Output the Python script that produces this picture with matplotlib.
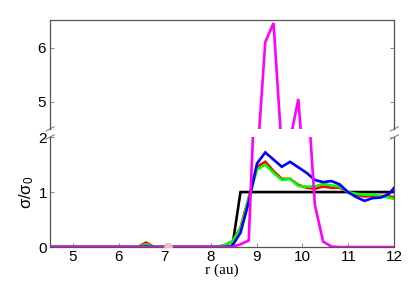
import numpy as np
import matplotlib
matplotlib.use('Agg')
import matplotlib.pyplot as plt

plt.rcParams['font.family'] = ['Liberation Sans', 'DejaVu Sans']

# radial grid (au) -- same for all curves
r = [4.5, 6.41, 6.59, 6.77, 7.93, 8.11, 8.29, 8.47, 8.65, 8.83, 9.01, 9.19,
     9.37, 9.55, 9.73, 9.91, 10.09, 10.27, 10.45, 10.63, 10.81, 10.99,
     11.17, 11.35, 11.53, 11.71, 11.89, 12.07]

sig_init = [0, 0, 0, 0, 0, 0, 0, 0, 1, 1, 1, 1, 1, 1, 1, 1, 1, 1, 1, 1, 1, 1,
            1, 1, 1, 1, 1, 1]
sig_red = [0, 0, 0.08, 0, 0, 0, 0.03, 0.1, 0.35, 0.9, 1.46, 1.55, 1.38, 1.24,
           1.24, 1.13, 1.08, 1.06, 1.10, 1.08, 1.08, 1.0, 0.95, 0.92, 0.93,
           0.93, 0.92, 0.90]
sig_green = [0, 0, 0.05, 0, 0, 0, 0.03, 0.1, 0.33, 0.88, 1.41, 1.50, 1.35,
             1.22, 1.24, 1.11, 1.10, 1.10, 1.15, 1.12, 1.10, 1.0, 0.97, 0.95,
             0.95, 0.92, 0.90, 0.86]
sig_blue = [0, 0, 0.01, 0, 0, 0, 0, 0.02, 0.26, 0.82, 1.52, 1.72, 1.59, 1.46,
            1.55, 1.45, 1.35, 1.22, 1.18, 1.20, 1.14, 1.0, 0.91, 0.84, 0.89,
            0.90, 0.97, 1.15]
sig_mag = [0, 0, 0, 0, 0, 0, 0, 0, 0.05, 0.12, 3.88, 6.1, 6.45, 4.11, 4.29,
           5.05, 3.07, 0.77, 0.1, 0.01, 0, 0, 0, 0, 0, 0, 0, 0]

dot_r, dot_s = 7.07, 0.0

fig = plt.figure(figsize=(4.15, 2.91), dpi=100)
ax_top = fig.add_axes([0.1205, 0.557, 0.8295, 0.373])
ax_bot = fig.add_axes([0.1205, 0.151, 0.8295, 0.378])

series = [(sig_init, 'black'), (sig_red, '#ff0000'), (sig_green, '#00ff00'),
          (sig_blue, '#0000ff'), (sig_mag, '#ff00ff')]
for ax in (ax_top, ax_bot):
    for s, c in series:
        ax.plot(r, s, color=c, lw=1.9, solid_joinstyle='miter')
    ax.set_xlim(4.5, 12)
    for sp in ax.spines.values():
        sp.set_color('#555555')
        sp.set_linewidth(0.9)
    ax.tick_params(direction='in', length=3, width=0.6, color='#777777',
                   labelsize=11, right=True, top=False, pad=3)

ax_bot.scatter([dot_r], [dot_s], s=40, color='#f6b8b8', zorder=3, lw=0)

ax_top.set_ylim(4.5, 6.5)
ax_top.set_yticks([5, 6])
ax_top.spines['bottom'].set_visible(False)
ax_top.tick_params(bottom=False, labelbottom=False)

ax_bot.set_ylim(0, 2)
ax_bot.set_yticks([0, 1, 2])
ax_bot.set_xticks(range(5, 13))
ax_bot.spines['top'].set_visible(False)
ax_bot.tick_params(pad=2)

ax_bot.set_xlabel('r (au)', family='Liberation Serif', fontsize=11, labelpad=0)
ax_bot.set_ylabel(r'$\mathregular{\sigma/\sigma_0}$', fontsize=12, labelpad=2)

# break marks
d = 0.012
kw = dict(color='#777777', lw=0.7, clip_on=False)
for x0 in (0, 1):
    ax_top.plot([x0 - d, x0 + d], [-0.02, 0.02], transform=ax_top.transAxes, **kw)
    ax_bot.plot([x0 - d, x0 + d], [0.98, 1.02], transform=ax_bot.transAxes, **kw)

fig.savefig('out.png', dpi=100)
